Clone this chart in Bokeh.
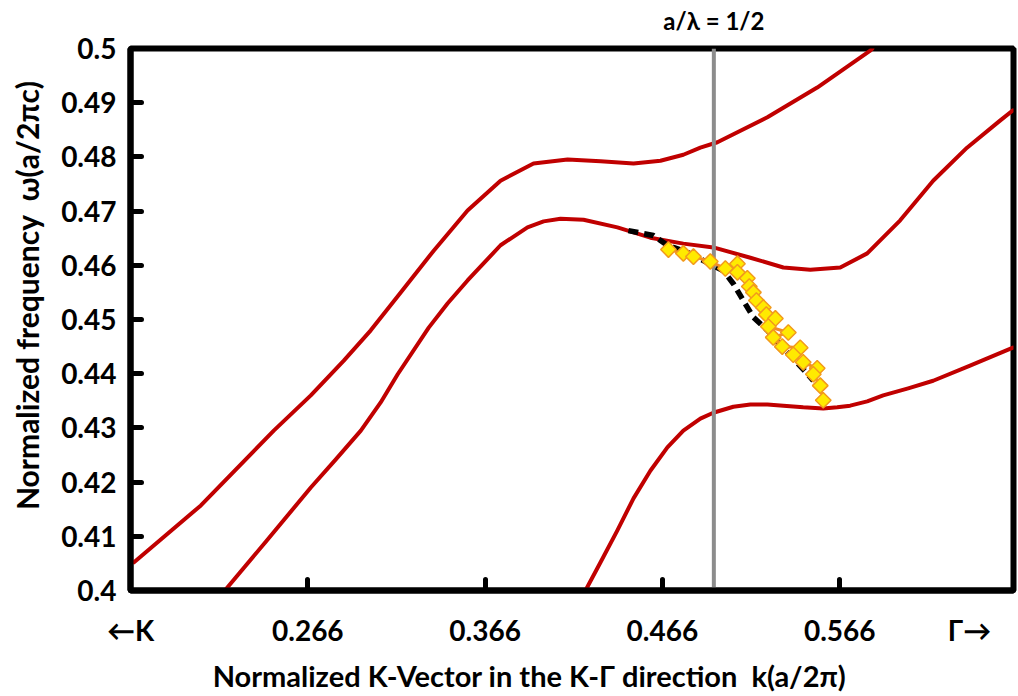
from bokeh.plotting import figure
from bokeh.models import Range1d, FixedTicker, LinearAxis
from bokeh.embed import file_html
from bokeh.resources import INLINE

# ---- photonic band data: k in units of a/2pi, omega in units of a/2pi c ----
band_upper_k = [0.1680, 0.2057, 0.2468, 0.2677, 0.2863, 0.3015, 0.3184, 0.3370,
                0.3561, 0.3747, 0.3933, 0.4125, 0.4311, 0.4497, 0.4649, 0.4778,
                0.4874, 0.4970, 0.5252, 0.5533, 0.5832, 0.5844]
band_upper_w = [0.4052, 0.4157, 0.4295, 0.4360, 0.4424, 0.4480, 0.4550, 0.4627,
                0.4701, 0.4756, 0.4788, 0.4795, 0.4792, 0.4788, 0.4793, 0.4804,
                0.4817, 0.4827, 0.4873, 0.4928, 0.4996, 0.5000]

band_middle_k = [0.2192, 0.2423, 0.2677, 0.2818, 0.2959, 0.3071, 0.3167, 0.3342,
                 0.3449, 0.3561, 0.3747, 0.3899, 0.3990, 0.4085, 0.4215, 0.4406,
                 0.4592, 0.4778, 0.4947, 0.5156, 0.5342, 0.5494, 0.5663, 0.5815,
                 0.6001, 0.6187, 0.6378, 0.6564, 0.6637]
band_middle_w = [0.4000, 0.4090, 0.4190, 0.4242, 0.4295, 0.4347, 0.4399, 0.4485,
                 0.4530, 0.4572, 0.4637, 0.4670, 0.4681, 0.4686, 0.4684, 0.4670,
                 0.4651, 0.4640, 0.4633, 0.4614, 0.4596, 0.4592, 0.4596, 0.4622,
                 0.4683, 0.4756, 0.4817, 0.4867, 0.4886]

band_lower_k = [0.4226, 0.4311, 0.4406, 0.4497, 0.4592, 0.4688, 0.4778, 0.4874,
                0.4947, 0.5060, 0.5156, 0.5252, 0.5342, 0.5454, 0.5567, 0.5646,
                0.5719, 0.5815, 0.5905, 0.6046, 0.6187, 0.6395, 0.6637]
band_lower_w = [0.4000, 0.4052, 0.4111, 0.4170, 0.4221, 0.4264, 0.4295, 0.4317,
                0.4328, 0.4339, 0.4343, 0.4343, 0.4341, 0.4338, 0.4336, 0.4338,
                0.4341, 0.4349, 0.4360, 0.4373, 0.4387, 0.4415, 0.4448]

# guided mode traced between the bands
guide_k = [0.4468, 0.4609, 0.4688, 0.4801, 0.4913, 0.5004, 0.5060, 0.5116,
           0.5173, 0.5252, 0.5325, 0.5398, 0.5477, 0.5511]
guide_w = [0.4664, 0.4655, 0.4637, 0.4624, 0.4605, 0.4590, 0.4566, 0.4535,
           0.4504, 0.4480, 0.4452, 0.4428, 0.4400, 0.4387]

# measured points
meas_k = [0.4694, 0.4778, 0.4835, 0.4930, 0.5015, 0.5083, 0.5083, 0.5139, 0.5150,
          0.5173, 0.5190, 0.5229, 0.5246, 0.5297, 0.5257, 0.5370, 0.5285, 0.5336,
          0.5437, 0.5398, 0.5454, 0.5533, 0.5511, 0.5550, 0.5567]
meas_w = [0.4629, 0.4622, 0.4616, 0.4607, 0.4594, 0.4603, 0.4587, 0.4576, 0.4561,
          0.4550, 0.4535, 0.4522, 0.4509, 0.4502, 0.4487, 0.4476, 0.4467, 0.4450,
          0.4448, 0.4435, 0.4421, 0.4410, 0.4399, 0.4378, 0.4351]

# a / lambda = 1/2 marker
half_lambda_k = 0.495
half_lambda_text = "a/\u03bb = 1/2"

x_tick_vals = [0.266, 0.366, 0.466, 0.566]
x_tick_labels = ["0.266", "0.366", "0.466", "0.566"]
y_tick_vals = [0.40, 0.41, 0.42, 0.43, 0.44, 0.45, 0.46, 0.47, 0.48, 0.49, 0.50]
y_tick_labels = ["0.4", "0.41", "0.42", "0.43", "0.44", "0.45", "0.46", "0.47",
                 "0.48", "0.49", "0.5"]
k_start_text = "\u2190K"
k_end_text = "\u0393\u2192"
x_title = "Normalized K-Vector in the K-\u0393 direction\u00a0\u00a0k(a/2\u03c0)"
y_title = "Normalized frequency\u00a0\u00a0\u03c9(a/2\u03c0c)"

# ---- layout ----
X0, X1 = 0.166, 0.664
Y0, Y1 = 0.40, 0.50
W, H = 1018, 696
FL, FR, FT, FB = 130, 1013, 48, 590


def kx(px):
    return X0 + (px - FL) * (X1 - X0) / (FR - FL)


def wy(py):
    return Y0 + (FB - py) * (Y1 - Y0) / (FB - FT)


FONT = "Lato"

p = figure(width=W, height=H, x_range=Range1d(X0, X1), y_range=Range1d(Y0, Y1),
           output_backend="svg", toolbar_location=None,
           min_border_left=FL, min_border_right=W - FR,
           min_border_top=FT, min_border_bottom=H - FB)
p.background_fill_color = "white"
p.border_fill_color = "white"
p.grid.visible = False
p.outline_line_color = "black"
p.outline_line_width = 6
p.outline_line_alpha = 1.0

# main axes: ticks pointing into the frame; the direction arrows sit at the ends
x_ticks = [X0] + x_tick_vals + [X1]
x_labels = dict(zip(x_tick_vals, x_tick_labels))
x_labels[X0] = k_start_text
x_labels[X1] = k_end_text + "\u00a0" * 4
p.xaxis.ticker = FixedTicker(ticks=x_ticks)
p.yaxis.ticker = FixedTicker(ticks=y_tick_vals)
p.xaxis.major_label_overrides = x_labels
p.yaxis.major_label_overrides = dict(zip(y_tick_vals, y_tick_labels))

for ax in (p.xaxis[0], p.yaxis[0]):
    ax.axis_line_width = 6
    ax.axis_line_color = "black"
    ax.major_tick_in = 11
    ax.major_tick_out = 0
    ax.major_tick_line_width = 5
    ax.major_tick_line_cap = "round"
    ax.minor_tick_line_color = None
    ax.major_label_text_font = FONT
    ax.major_label_text_font_style = "bold"
    ax.major_label_text_font_size = "28px"
    ax.major_label_text_color = "black"
p.xaxis.major_label_standoff = 22
p.yaxis.major_label_standoff = 14


def text_axis(ticks, labels, size, standoff, orientation="horizontal"):
    ax = LinearAxis(ticker=FixedTicker(ticks=ticks),
                    major_label_overrides=dict(zip(ticks, labels)),
                    axis_line_color=None, major_tick_line_color=None,
                    minor_tick_line_color=None,
                    major_label_standoff=standoff,
                    major_label_orientation=orientation,
                    major_label_text_font=FONT,
                    major_label_text_font_style="bold",
                    major_label_text_font_size=size,
                    major_label_text_color="black")
    return ax


# marker caption above the frame
p.add_layout(text_axis([half_lambda_k], [half_lambda_text], "24px", 8), "above")
# axis titles
x_title_pos = kx(529)
p.add_layout(text_axis([x_title_pos], [x_title], "29px", 2), "below")
y_title_pos = wy(295)
p.add_layout(text_axis([y_title_pos], [y_title], "30px", 8, "parallel"), "left")

RED = "#C00000"
for bk, bw in ((band_upper_k, band_upper_w), (band_middle_k, band_middle_w),
               (band_lower_k, band_lower_w)):
    p.line(bk, bw, line_color=RED, line_width=4, line_join="round", line_cap="round")

p.line([half_lambda_k, half_lambda_k], [Y0, Y1], line_color="#8C8C8C", line_width=4)

p.line(guide_k, guide_w, line_color="black", line_width=5.5, line_dash="10 6")

p.line(meas_k, meas_w, line_color="#F28C28", line_width=3)
p.scatter(meas_k, meas_w, marker="square", angle=0.785398, size=11,
          fill_color="#FFEA00", line_color="#F29A1C", line_width=1.5)

open("out.html", "w").write(file_html(p, INLINE))
